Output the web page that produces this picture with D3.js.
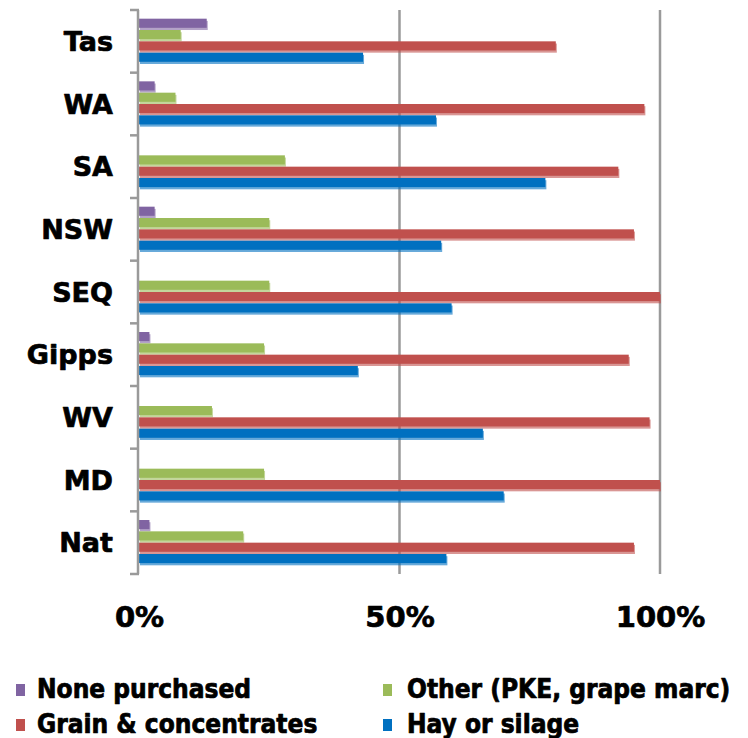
<!DOCTYPE html>
<html>
<head>
<meta charset="utf-8">
<script src="https://cdn.jsdelivr.net/npm/d3@7"></script>
<style>
  html, body { margin: 0; padding: 0; background: #fff; }
  svg { display: block; }
</style>
</head>
<body>
<svg id="chart" width="748" height="738"></svg>
<script>
// Regions, listed top to bottom
const regions = ["Tas", "WA", "SA", "NSW", "SEQ", "Gipps", "WV", "MD", "Nat"];

// Series keys and legend names, in drawing order within each group
const seriesKeys = ["none", "other", "grain", "hay"];
const seriesNames = ["None purchased", "Other (PKE, grape marc)", "Grain & concentrates", "Hay or silage"];
const seriesColors = ["#8064A2", "#9BBB59", "#C0504D", "#0070C0"];

// Share of farms purchasing each feed type (percent)
const nonePurchased = [13, 3, 0, 3, 0, 2, 0, 0, 2];
const otherFeed     = [8, 7, 28, 25, 25, 24, 14, 24, 20];
const grainConc     = [80, 97, 92, 95, 100, 94, 98, 100, 95];
const haySilage     = [43, 57, 78, 58, 60, 42, 66, 70, 59];

// x-axis tick values
const xTicks = [0, 0.5, 1];

const seriesValues = [nonePurchased, otherFeed, grainConc, haySilage];
const rows = regions.map((r, i) => ({
  region: r,
  values: seriesKeys.map((k, j) => ({ key: k, idx: j, value: seriesValues[j][i] / 100 }))
}));

const svg = d3.select("#chart");
const plotTop = 10, plotBottom = 574, plotLeft = 139, plotRight = 660;

const x = d3.scaleLinear().domain([0, 1]).range([plotLeft, plotRight]);
const pad = 0.277;
const y0 = d3.scaleBand().domain(regions).range([plotTop, plotBottom])
  .paddingInner(pad).paddingOuter(pad / 2);
const y1 = d3.scaleBand().domain(seriesKeys).range([0, y0.bandwidth()]);
const color = d3.scaleOrdinal().domain(seriesKeys).range(seriesColors);

const gridColor = "#9a9a9a";

// Vertical gridlines at 50% and 100%
svg.append("g").selectAll("line")
  .data(xTicks.filter(d => d > 0))
  .join("line")
  .attr("x1", d => x(d)).attr("x2", d => x(d))
  .attr("y1", plotTop).attr("y2", plotBottom)
  .attr("stroke", gridColor).attr("stroke-width", 2.5);

// Bars: a lighter offset copy underneath gives the soft bottom edge
const groups = svg.append("g").selectAll("g")
  .data(rows).join("g")
  .attr("transform", d => `translate(0,${y0(d.region)})`);

const shadowOff = 2.2;
const barH = y1.bandwidth() - shadowOff;

groups.selectAll("rect.shadow")
  .data(d => d.values.filter(v => v.value > 0))
  .join("rect").attr("class", "shadow")
  .attr("x", x(0) + 1)
  .attr("y", d => y1(d.key) + shadowOff)
  .attr("width", d => x(d.value) - x(0))
  .attr("height", barH)
  .attr("fill", d => color(d.key))
  .attr("opacity", 0.6);

groups.selectAll("rect.bar")
  .data(d => d.values.filter(v => v.value > 0))
  .join("rect").attr("class", "bar")
  .attr("x", x(0))
  .attr("y", d => y1(d.key))
  .attr("width", d => x(d.value) - x(0))
  .attr("height", barH)
  .attr("fill", d => color(d.key));

// Category axis: line plus ticks at group boundaries
const step = y0.step();
const boundaries = d3.range(regions.length + 1).map(i => plotTop + i * step);
const axisG = svg.append("g");
axisG.append("line")
  .attr("x1", plotLeft - 1).attr("x2", plotLeft - 1)
  .attr("y1", plotTop).attr("y2", plotBottom)
  .attr("stroke", gridColor).attr("stroke-width", 2.5);
axisG.selectAll("line.tick")
  .data(boundaries).join("line").attr("class", "tick")
  .attr("x1", plotLeft - 9).attr("x2", plotLeft)
  .attr("y1", d => d).attr("y2", d => d)
  .attr("stroke", gridColor).attr("stroke-width", 2.5);

// Shared heavy text style
function heavy(sel, size, family) {
  sel.style("font-family", family || "'DejaVu Sans', Verdana, sans-serif")
    .style("font-weight", "bold")
    .style("font-size", size + "px")
    .attr("fill", "#000")
    .attr("stroke", "#000")
    .attr("stroke-width", 0.7)
    .attr("stroke-linejoin", "round");
}

// Category labels
const yAxis = svg.append("g")
  .attr("transform", `translate(${plotLeft - 1},0)`)
  .call(d3.axisLeft(y0).tickSize(0).tickPadding(25));
yAxis.select(".domain").remove();
yAxis.selectAll("text").attr("dy", "0.36em").call(heavy, 27);

// Percent labels along the bottom
const xAxis = svg.append("g")
  .attr("transform", `translate(0,627)`)
  .call(d3.axisBottom(x).tickValues(xTicks).tickFormat(d3.format(".0%")).tickSize(0).tickPadding(0));
xAxis.select(".domain").remove();
xAxis.selectAll("text").attr("y", 0).attr("dy", 0).call(heavy, 29);

// Legend: two columns, two rows
const legendOrder = [0, 1, 2, 3];
const legend = svg.append("g").selectAll("g")
  .data(legendOrder).join("g")
  .attr("transform", i => `translate(${i % 2 === 0 ? 16 : 383},${i < 2 ? 698 : 733})`);
legend.append("rect")
  .attr("x", 0).attr("y", -14)
  .attr("width", 9).attr("height", 12)
  .attr("fill", i => seriesColors[i]);
legend.append("text")
  .attr("x", i => i % 2 === 0 ? 21 : 24)
  .attr("y", 0)
  .text(i => seriesNames[i])
  .style("font-stretch", "condensed")
  .call(heavy, 26, "'DejaVu Sans Condensed', 'DejaVu Sans', sans-serif");
</script>
</body>
</html>
